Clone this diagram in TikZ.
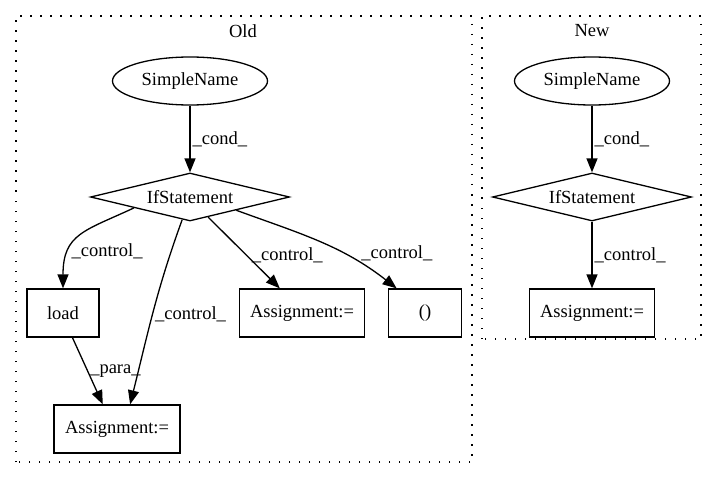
\documentclass[tikz,border=0pt]{standalone}
\usepackage{fontspec}
\setmainfont{Liberation Serif}
\usetikzlibrary{shapes.geometric}
\usetikzlibrary{arrows.meta}

\begin{document}
\begin{tikzpicture}[x=1pt,y=1pt,line width=1.3pt,
  font=\fontsize{18.5}{22}\selectfont,
  every node/.style={inner sep=0pt},
  ell/.style={ellipse,draw,minimum width=155pt,minimum height=48pt},
  dia/.style={diamond,draw,aspect=4,minimum width=199pt,minimum height=48pt},
  box/.style={rectangle,draw,minimum height=48pt},
  lbl/.style={inner sep=2pt},
  cluster/.style={dash pattern=on 1.5pt off 8.5pt},
  >={Triangle[length=14pt,width=11pt]}]
\useasboundingbox (0,0) rectangle (717,480);
\draw [cluster] (16,18) rectangle (472,464);
\node (oldT) at (243,449) {Old};
\node (simpleO) [ell] at (190,399) {SimpleName};
\node (ifO) [dia] at (190,283) {IfStatement};
\node (load) [box,minimum width=72pt] at (63,167) {load};
\node (asgM) [box,minimum width=125pt] at (302,167) {Assignment:=};
\node (par) [box,minimum width=73pt] at (425,167) {()};
\node (asgB) [box,minimum width=126pt] at (117,51) {Assignment:=};
\draw [->] (simpleO) -- (ifO) node[midway,right,lbl] {\_cond\_};
\draw [->] (ifO.191) to [out=205,in=90,looseness=1.3] node[pos=0.7,right,lbl] {\_control\_} (load);
\draw [->] (ifO.251) to [out=250,in=76] node[pos=0.52,right,lbl] {\_control\_} (asgB.62);
\draw [->] (ifO.-48) -- (asgM.132) node[pos=0.53,right=5pt] {\_control\_};
\draw [->] (ifO.-16) to [out=-20,in=142] node[pos=0.65,right=18pt] {\_control\_} (par.139);
\draw [->] (load.-69) -- (asgB.120) node[midway,right,lbl] {\_para\_};
\draw [cluster] (482,141) rectangle (701,464);
\node (newT) at (592,449) {New};
\node (simpleN) [ell] at (592,399) {SimpleName};
\node (ifN) [dia] at (592,283) {IfStatement};
\node (asgN) [box,minimum width=125pt] at (592,167) {Assignment:=};
\draw [->] (simpleN) -- (ifN) node[midway,right,lbl] {\_cond\_};
\draw [->] (ifN) -- (asgN) node[midway,right,lbl] {\_control\_};
\end{tikzpicture}
\end{document}
